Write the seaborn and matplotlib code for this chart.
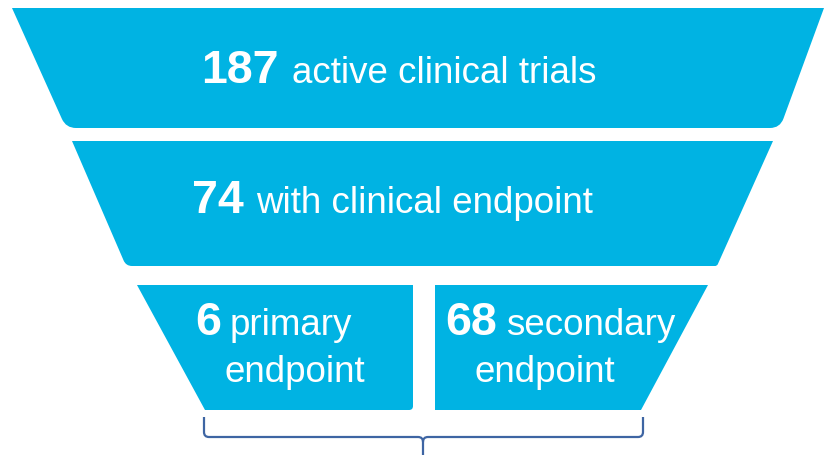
import numpy as np
import matplotlib
matplotlib.use("Agg")
import matplotlib.pyplot as plt
from matplotlib.path import Path
from matplotlib.patches import PathPatch
import seaborn as sns

# funnel data
counts = [187, 74, 6, 68]
labels = ["active clinical trials", "with clinical endpoint", "primary", "secondary"]
second_lines = ["", "", "endpoint", "endpoint"]

FILL = "#00B3E3"
BRACE = "#3E65A3"

# layout (pixel space, y grows downwards)
shapes = [
    ([(12, 8), (824, 8), (780, 128), (66, 128)], [0, 0, 10, 10]),
    ([(72, 141), (773, 141), (717, 266), (126, 266)], [0, 0, 2, 6]),
    ([(137, 285), (413, 285), (413, 410), (205, 410)], [0, 0, 4, 0]),
    ([(435, 285), (708, 285), (641, 410), (435, 410)], [0, 0, 0, 0]),
]
# (num_right_x, label_x, baseline, line2_x, line2_baseline)
text_pos = [
    (279, 292, 83, None, None),
    (244, 256, 213, None, None),
    (221, 230, 335, 225, 382),
    (497, 506, 335, 475, 382),
]
NUM_SIZE = 33.5
LABEL_SIZE = 26.5


def rounded_path(pts, radii):
    pts = [np.array(p, dtype=float) for p in pts]
    n = len(pts)
    verts, codes = [], []
    for i in range(n):
        p, prev, nxt = pts[i], pts[i - 1], pts[(i + 1) % n]
        r = radii[i]
        if r:
            a = p + (prev - p) / np.linalg.norm(prev - p) * r
            b = p + (nxt - p) / np.linalg.norm(nxt - p) * r
        else:
            a = b = p
        verts.append(a)
        codes.append(Path.MOVETO if i == 0 else Path.LINETO)
        if r:
            verts += [p, b]
            codes += [Path.CURVE3, Path.CURVE3]
    verts.append(verts[0])
    codes.append(Path.CLOSEPOLY)
    return Path(verts, codes)


sns.set_theme(style="white")
plt.rcParams["font.family"] = ["Liberation Sans", "DejaVu Sans"]

fig = plt.figure(figsize=(8.25, 4.55), dpi=100)
ax = fig.add_axes([0, 0, 1, 1])
ax.set_xlim(0, 825)
ax.set_ylim(455, 0)
ax.axis("off")

for (pts, radii) in shapes:
    ax.add_patch(PathPatch(rounded_path(pts, radii), facecolor=FILL,
                           edgecolor="none"))

for count, label, line2, (nx, lx, base, l2x, l2base) in zip(
        counts, labels, second_lines, text_pos):
    ax.text(nx, base, str(count), color="white", fontsize=NUM_SIZE,
            fontweight="bold", ha="right", va="baseline")
    ax.text(lx, base, label, color="white", fontsize=LABEL_SIZE,
            ha="left", va="baseline")
    if line2:
        ax.text(l2x, l2base, line2, color="white", fontsize=LABEL_SIZE,
                ha="left", va="baseline")

# curly brace under the split row
bx0, bx1, bmid = 204, 643, 423
by0, by1, by2 = 417, 437, 455
r = 5
brace = Path(
    [(bx0, by0), (bx0, by1 - r), (bx0, by1), (bx0 + r, by1),
     (bmid - r, by1), (bmid, by1), (bmid, by1 + r), (bmid, by2),
     (bmid, by1 + r), (bmid, by1), (bmid + r, by1),
     (bx1 - r, by1), (bx1, by1), (bx1, by1 - r), (bx1, by0)],
    [Path.MOVETO, Path.LINETO, Path.CURVE3, Path.CURVE3,
     Path.LINETO, Path.CURVE3, Path.CURVE3, Path.LINETO,
     Path.MOVETO, Path.CURVE3, Path.CURVE3,
     Path.LINETO, Path.CURVE3, Path.CURVE3, Path.LINETO])
ax.add_patch(PathPatch(brace, facecolor="none", edgecolor=BRACE, lw=1.6))

fig.savefig("out.png", dpi=100)
